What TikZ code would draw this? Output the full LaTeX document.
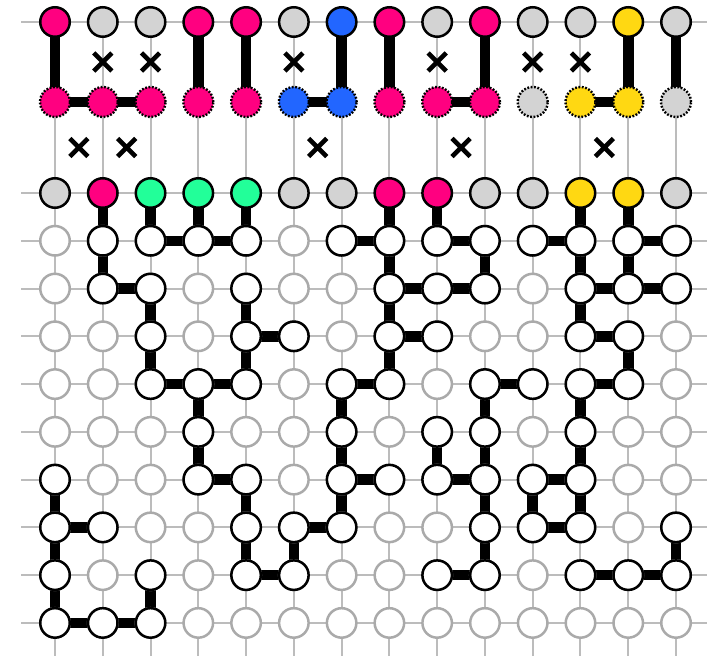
\documentclass[tikz,border=0pt]{standalone}
\usetikzlibrary{backgrounds,calc,shapes.misc}
\definecolor{cpink}{RGB}{255,0,128}
\definecolor{cblue}{RGB}{34,102,255}
\definecolor{cgreen}{RGB}{34,255,153}
\definecolor{cyellow}{RGB}{255,216,18}
\definecolor{cgray}{RGB}{211,211,211}
\definecolor{linegray}{RGB}{188,188,188}
\definecolor{offgray}{RGB}{170,170,170}
\begin{document}
\begin{tikzpicture}[x=1pt,y=-1pt,
  gridline/.style={draw=linegray, line width=2pt},
  bar/.style={draw=black, line width=10.5pt},
  solidcirc/.style={circle, inner sep=0pt, minimum size=29.5pt, line width=2.5pt, draw=black},
  dotcirc/.style={circle, inner sep=0pt, minimum size=30pt, line width=2.4pt, draw=black, dash pattern=on 1.8pt off 1.6pt},
  offcirc/.style={solidcirc, draw=offgray, fill=white},
  oncirc/.style={solidcirc, draw=black, fill=white},
  xmark/.style={cross out, draw=black, line width=4.6pt, minimum size=13.5pt, inner sep=0pt}]
\useasboundingbox (0,0) rectangle (727,660);
% top row
\foreach \col [count=\c from 0] in {cpink,cgray,cgray,cpink,cpink,cgray,cblue,cpink,cgray,cpink,cgray,cgray,cyellow,cgray}
  \node[solidcirc, fill=\col] (t\c) at ({55+47.77*\c},22) {};
% middle row (dotted)
\foreach \col [count=\c from 0] in {cpink,cpink,cpink,cpink,cpink,cblue,cblue,cpink,cpink,cpink,cgray,cyellow,cyellow,cgray}
  \node[dotcirc, fill=\col] (m\c) at ({55+47.77*\c},102) {};
% grid row 0
\foreach \col [count=\c from 0] in {cgray,cpink,cgreen,cgreen,cgreen,cgray,cgray,cpink,cpink,cgray,cgray,cyellow,cyellow,cgray}
  \node[solidcirc, fill=\col] (g0-\c) at ({55+47.77*\c},193) {};
% grid rows 1..9, inactive
\foreach \r in {1,...,9}
  \foreach \c in {0,...,13}
    \node[offcirc] (g\r-\c) at ({55+47.77*\c},{193+47.77*\r}) {};
% active cells
\foreach \r/\l in {1/{1,2,3,4,6,7,8,9,10,11,12,13},
                   2/{1,2,4,7,8,9,11,12,13},
                   3/{2,4,5,7,8,11,12},
                   4/{2,3,4,6,7,9,10,11,12},
                   5/{3,6,8,9,11},
                   6/{0,3,4,6,7,8,9,10,11},
                   7/{0,1,4,5,6,9,10,11,13},
                   8/{0,2,4,5,8,9,11,12,13},
                   9/{0,1,2}}
  \foreach \c in \l
    \node[oncirc] (g\r-\c) at ({55+47.77*\c},{193+47.77*\r}) {};
% crosses between top and middle rows
\foreach \c [count=\i] in {1,2,5,8,10,11}
  \node[xmark] (xa\i) at ($(t\c)!0.5!(m\c)$) {};
% crosses between middle row and row 0
\foreach \c [count=\i] in {0,1,5,8,11}{
  \pgfmathtruncatemacro\d{\c+1}
  \node[xmark] (xb\i) at ($(m\c)!0.5!(g0-\d)$) {};
}
\begin{pgfonlayer}{background}
  % grey grid lines
  \foreach \y in {22,193,240.77,288.54,336.31,384.08,431.85,479.62,527.39,575.16,622.93}
    \draw[gridline] (21,\y) -- (707,\y);
  \foreach \c in {0,...,13}
    \draw[gridline] ({55+47.77*\c},22) -- ({55+47.77*\c},656);
  % top to middle bars
  \foreach \c in {0,3,4,6,7,9,12,13}
    \draw[bar] (t\c.center) -- (m\c.center);
  % middle row bars
  \foreach \c in {0,1,5,8,11}{
    \pgfmathtruncatemacro\d{\c+1}
    \draw[bar] (m\c.center) -- (m\d.center);
  }
  % horizontal grid bars
  \foreach \r/\l in {1/{2,3,6,8,10,12},
                     2/{1,7,8,11,12},
                     3/{4,7,11},
                     4/{2,3,6,9,11},
                     6/{3,6,8,10},
                     7/{0,5,10},
                     8/{4,8,11,12},
                     9/{0,1}}
    \foreach \c in \l {
      \pgfmathtruncatemacro\d{\c+1}
      \draw[bar] (g\r-\c.center) -- (g\r-\d.center);
    }
  % vertical grid bars
  \foreach \r/\l in {0/{1,2,3,4,7,8,11,12},
                     1/{1,7,9,11,12},
                     2/{2,4,7,11},
                     3/{2,4,7,12},
                     4/{3,6,9,11},
                     5/{3,6,8,9,11},
                     6/{0,4,6,9,10,11},
                     7/{0,4,5,9,13},
                     8/{0,2}}
    \foreach \c in \l {
      \pgfmathtruncatemacro\s{\r+1}
      \draw[bar] (g\r-\c.center) -- (g\s-\c.center);
    }
\end{pgfonlayer}
\end{tikzpicture}
\end{document}
